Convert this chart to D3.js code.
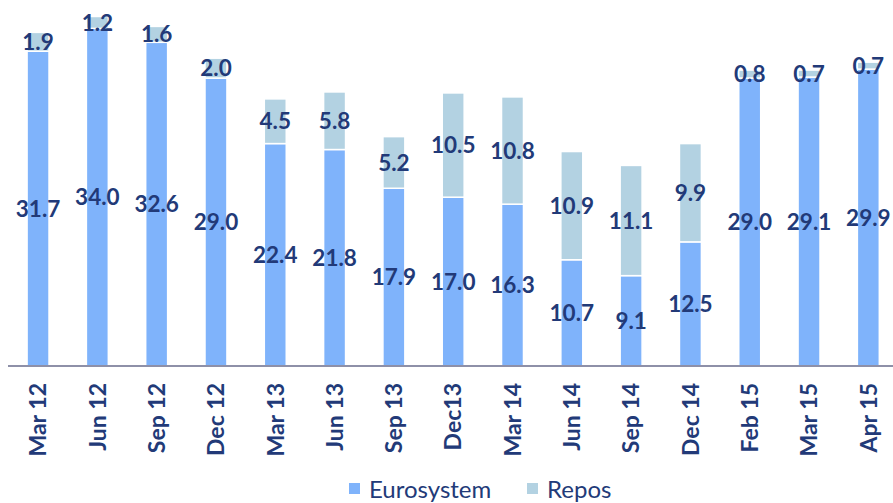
<!DOCTYPE html>
<html lang="en">
<head>
    <title>Eurosystem and Repos</title>
    <script src="https://d3js.org/d3.v7.min.js"></script>
    <style>
        body { margin: 0; background: #fff; }
        text { font-family: Lato, "Open Sans", sans-serif; fill: #223a78; }
    </style>
</head>
<body>
    <svg id="chart"></svg>

    <script>
        var categories = ["Mar 12", "Jun 12", "Sep 12", "Dec 12", "Mar 13", "Jun 13", "Sep 13", "Dec13",
                          "Mar 14", "Jun 14", "Sep 14", "Dec 14", "Feb 15", "Mar 15", "Apr 15"];
        var eurosystem = [31.7, 34.0, 32.6, 29.0, 22.4, 21.8, 17.9, 17.0, 16.3, 10.7, 9.1, 12.5, 29.0, 29.1, 29.9];
        var repos = [1.9, 1.2, 1.6, 2.0, 4.5, 5.8, 5.2, 10.5, 10.8, 10.9, 11.1, 9.9, 0.8, 0.7, 0.7];
        var seriesNames = ["Eurosystem", "Repos"];
        var colors = ["#7fb3fb", "#b3d2e2"];

        var W = 893, H = 503;
        var baseY = 366;

        var svg = d3.select("#chart").attr("width", W).attr("height", H);

        var x = d3.scaleBand().domain(categories).range([8.4, 898]).paddingInner(0.63).paddingOuter(0.315);
        var y = d3.scaleLinear().domain([0, 36.86]).range([baseY, 0]);

        var rows = categories.map(function (c, i) {
            return { cat: c, Eurosystem: eurosystem[i], Repos: repos[i] };
        });
        var stacked = d3.stack().keys(seriesNames)(rows);

        var layers = svg.selectAll("g.layer")
            .data(stacked)
            .enter().append("g")
            .attr("class", "layer")
            .attr("fill", function (d, i) { return colors[i]; });

        layers.selectAll("rect")
            .data(function (d) { return d; })
            .enter().append("rect")
            .attr("x", function (d) { return x(d.data.cat); })
            .attr("width", x.bandwidth())
            .attr("y", function (d) { return y(d[1]); })
            .attr("height", function (d) { return y(d[0]) - y(d[1]); })
            .attr("stroke", "#fff")
            .attr("stroke-width", 1.5);

        // value labels, centred in each segment
        layers.selectAll("text")
            .data(function (d) { return d; })
            .enter().append("text")
            .attr("x", function (d) { return x(d.data.cat) + x.bandwidth() / 2; })
            .attr("y", function (d) { return (y(d[0]) + y(d[1])) / 2; })
            .attr("dy", "0.36em")
            .attr("text-anchor", "middle")
            .style("font-size", "22.5px")
            .style("font-weight", "bold")
            .text(function (d) { return d3.format(".1f")(d[1] - d[0]); });

        // x axis
        var xAxis = svg.append("g")
            .attr("transform", "translate(0," + baseY + ")")
            .call(d3.axisBottom(x).tickSize(0).tickPadding(0));
        xAxis.select(".domain").remove();
        xAxis.append("line")
            .attr("x1", 8).attr("x2", W)
            .attr("stroke", "#8e90a8").attr("stroke-width", 2);
        xAxis.selectAll(".tick text")
            .attr("transform", "rotate(-90)")
            .attr("x", -17)
            .attr("y", 0)
            .attr("dy", "0.36em")
            .attr("text-anchor", "end")
            .style("font-size", "23px")
            .style("font-weight", "bold")
            .style("fill", "#223a78");

        // legend
        var legendX = [349, 527];
        var legend = svg.selectAll("g.legend")
            .data(seriesNames)
            .enter().append("g")
            .attr("class", "legend")
            .attr("transform", function (d, i) { return "translate(" + legendX[i] + ",483)"; });
        legend.append("rect")
            .attr("width", 11).attr("height", 11)
            .attr("fill", function (d, i) { return colors[i]; });
        legend.append("text")
            .attr("x", 20).attr("y", 6)
            .attr("dy", "0.36em")
            .style("font-size", "24px")
            .text(function (d) { return d; });
    </script>
</body>
</html>
